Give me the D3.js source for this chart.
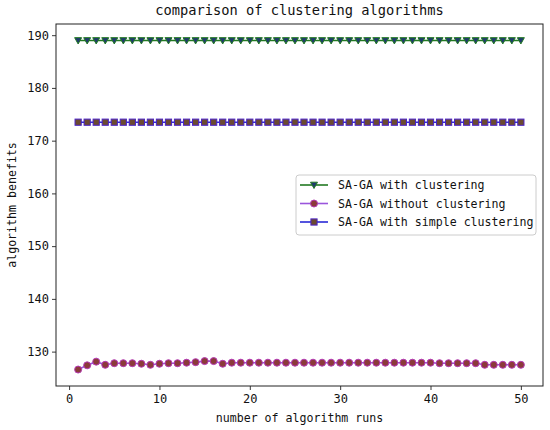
<!DOCTYPE html>
<html>
<head>
<meta charset="utf-8">
<script src="https://cdn.jsdelivr.net/npm/d3@7"></script>
<style>
  body { margin: 0; background: #fff; }
  text { font-family: "DejaVu Sans Mono", "Liberation Mono", monospace; fill: #111; }
</style>
</head>
<body>
<svg id="chart"></svg>
<script>
// runs 1..50
const runs = [1, 2, 3, 4, 5, 6, 7, 8, 9, 10, 11, 12, 13, 14, 15, 16, 17, 18, 19, 20,
  21, 22, 23, 24, 25, 26, 27, 28, 29, 30, 31, 32, 33, 34, 35, 36, 37, 38, 39, 40,
  41, 42, 43, 44, 45, 46, 47, 48, 49, 50];

const withClustering = [189, 189, 189, 189, 189, 189, 189, 189, 189, 189,
  189, 189, 189, 189, 189, 189, 189, 189, 189, 189,
  189, 189, 189, 189, 189, 189, 189, 189, 189, 189,
  189, 189, 189, 189, 189, 189, 189, 189, 189, 189,
  189, 189, 189, 189, 189, 189, 189, 189, 189, 189];

const withoutClustering = [126.6, 127.4, 128.1, 127.5, 127.8, 127.8, 127.8, 127.7, 127.5, 127.7,
  127.8, 127.8, 127.9, 128.0, 128.2, 128.2, 127.7, 127.9, 127.9, 127.9,
  127.9, 127.9, 127.9, 127.9, 127.9, 127.9, 127.9, 127.9, 127.9, 127.9,
  127.9, 127.9, 127.9, 127.9, 127.9, 127.9, 127.9, 127.9, 127.9, 127.9,
  127.8, 127.8, 127.8, 127.8, 127.8, 127.5, 127.5, 127.5, 127.5, 127.5];

const simpleClustering = [173.5, 173.5, 173.5, 173.5, 173.5, 173.5, 173.5, 173.5, 173.5, 173.5,
  173.5, 173.5, 173.5, 173.5, 173.5, 173.5, 173.5, 173.5, 173.5, 173.5,
  173.5, 173.5, 173.5, 173.5, 173.5, 173.5, 173.5, 173.5, 173.5, 173.5,
  173.5, 173.5, 173.5, 173.5, 173.5, 173.5, 173.5, 173.5, 173.5, 173.5,
  173.5, 173.5, 173.5, 173.5, 173.5, 173.5, 173.5, 173.5, 173.5, 173.5];

const seriesNames = ['SA-GA with clustering', 'SA-GA without clustering', 'SA-GA with simple clustering'];
const xTicks = [0, 10, 20, 30, 40, 50];
const yTicks = [130, 140, 150, 160, 170, 180, 190];

const series = [
  { name: seriesNames[0], values: withClustering, line: '#237a23', fill: '#1f3a6e', stroke: '#237a23', symbol: 'tri' },
  { name: seriesNames[1], values: withoutClustering, line: '#9a55dc', fill: '#8b3a3a', stroke: '#b53ab5', symbol: 'circle' },
  { name: seriesNames[2], values: simpleClustering, line: '#2a2ad6', fill: '#6b4a30', stroke: '#4a22c8', symbol: 'square' },
];

const W = 550, H = 430;
const margin = { top: 24, right: 7, bottom: 44, left: 56 };
const width = W - margin.left - margin.right;
const height = H - margin.top - margin.bottom;

const svg = d3.select('#chart').attr('width', W).attr('height', H);
svg.append('rect').attr('width', W).attr('height', H).attr('fill', '#fff');
const g = svg.append('g').attr('transform', `translate(${margin.left},${margin.top})`);

// matplotlib style 5% margins
const xPad = (d3.max(runs) - d3.min(runs)) * 0.05;
const allY = withClustering.concat(withoutClustering, simpleClustering);
const yPad = (d3.max(allY) - d3.min(allY)) * 0.05;
const x = d3.scaleLinear().domain([d3.min(runs) - xPad, d3.max(runs) + xPad]).range([0, width]);
const y = d3.scaleLinear().domain([d3.min(allY) - yPad, d3.max(allY) + yPad]).range([height, 0]);

const line = d3.line().x((d, i) => x(runs[i])).y(d => y(d));

function marker(sel, s, size) {
  if (s.symbol === 'circle') {
    sel.append('circle').attr('r', size / 2);
  } else if (s.symbol === 'square') {
    sel.append('rect').attr('x', -size / 2 + 0.4).attr('y', -size / 2 + 0.4)
      .attr('width', size - 0.8).attr('height', size - 0.8);
  } else {
    const h = size / 2;
    sel.append('path').attr('d', `M${-h},${-h * 0.8}L${h},${-h * 0.8}L0,${h}Z`);
  }
  sel.attr('fill', s.fill).attr('stroke', s.stroke).attr('stroke-width', 1);
}

series.forEach(s => {
  g.append('path').datum(s.values)
    .attr('fill', 'none').attr('stroke', s.line).attr('stroke-width', 1.6)
    .attr('d', line);
  g.append('g').selectAll('g')
    .data(s.values)
    .enter()
    .append('g')
    .attr('transform', (d, i) => `translate(${x(runs[i])},${y(d)})`)
    .each(function () { marker(d3.select(this), s, 7); });
});

// axes
const xAxis = g.append('g').attr('transform', `translate(0,${height})`)
  .call(d3.axisBottom(x).tickValues(xTicks).tickSize(4).tickPadding(4).tickSizeOuter(0));
const yAxis = g.append('g')
  .call(d3.axisLeft(y).tickValues(yTicks).tickSize(4).tickPadding(3).tickSizeOuter(0));
[xAxis, yAxis].forEach(a => {
  a.select('.domain').remove();
  a.selectAll('line').attr('stroke', '#222').attr('stroke-width', 0.9);
  a.selectAll('text').attr('font-size', 12).attr('font-family', '"DejaVu Sans Mono", monospace').attr('fill', '#111');
});

// frame
g.append('rect').attr('width', width).attr('height', height)
  .attr('fill', 'none').attr('stroke', '#222').attr('stroke-width', 1);

// labels
svg.append('text').attr('x', margin.left + width / 2).attr('y', 15)
  .attr('text-anchor', 'middle').attr('font-size', 13.7)
  .text('comparison of clustering algorithms');
svg.append('text').attr('x', margin.left + width / 2).attr('y', 422)
  .attr('text-anchor', 'middle').attr('font-size', 11.6)
  .text('number of algorithm runs');
svg.append('text').attr('transform', `translate(16,${margin.top + height / 2}) rotate(-90)`)
  .attr('text-anchor', 'middle').attr('font-size', 11.6)
  .text('algorithm benefits');

// legend
const lg = svg.append('g').attr('transform', 'translate(296,175)');
lg.append('rect').attr('width', 240).attr('height', 60).attr('rx', 3)
  .attr('fill', '#fff').attr('fill-opacity', 0.8).attr('stroke', '#ccc').attr('stroke-width', 1);
series.forEach((s, i) => {
  const row = lg.append('g').attr('transform', `translate(0,${10 + i * 18.5})`);
  row.append('line').attr('x1', 4).attr('x2', 32).attr('stroke', s.line).attr('stroke-width', 1.6);
  const m = row.append('g').attr('transform', 'translate(18,0)');
  marker(m, s, 7);
  row.append('text').attr('x', 42).attr('dy', '0.35em').attr('font-size', 11.6).text(s.name);
});
</script>
</body>
</html>
